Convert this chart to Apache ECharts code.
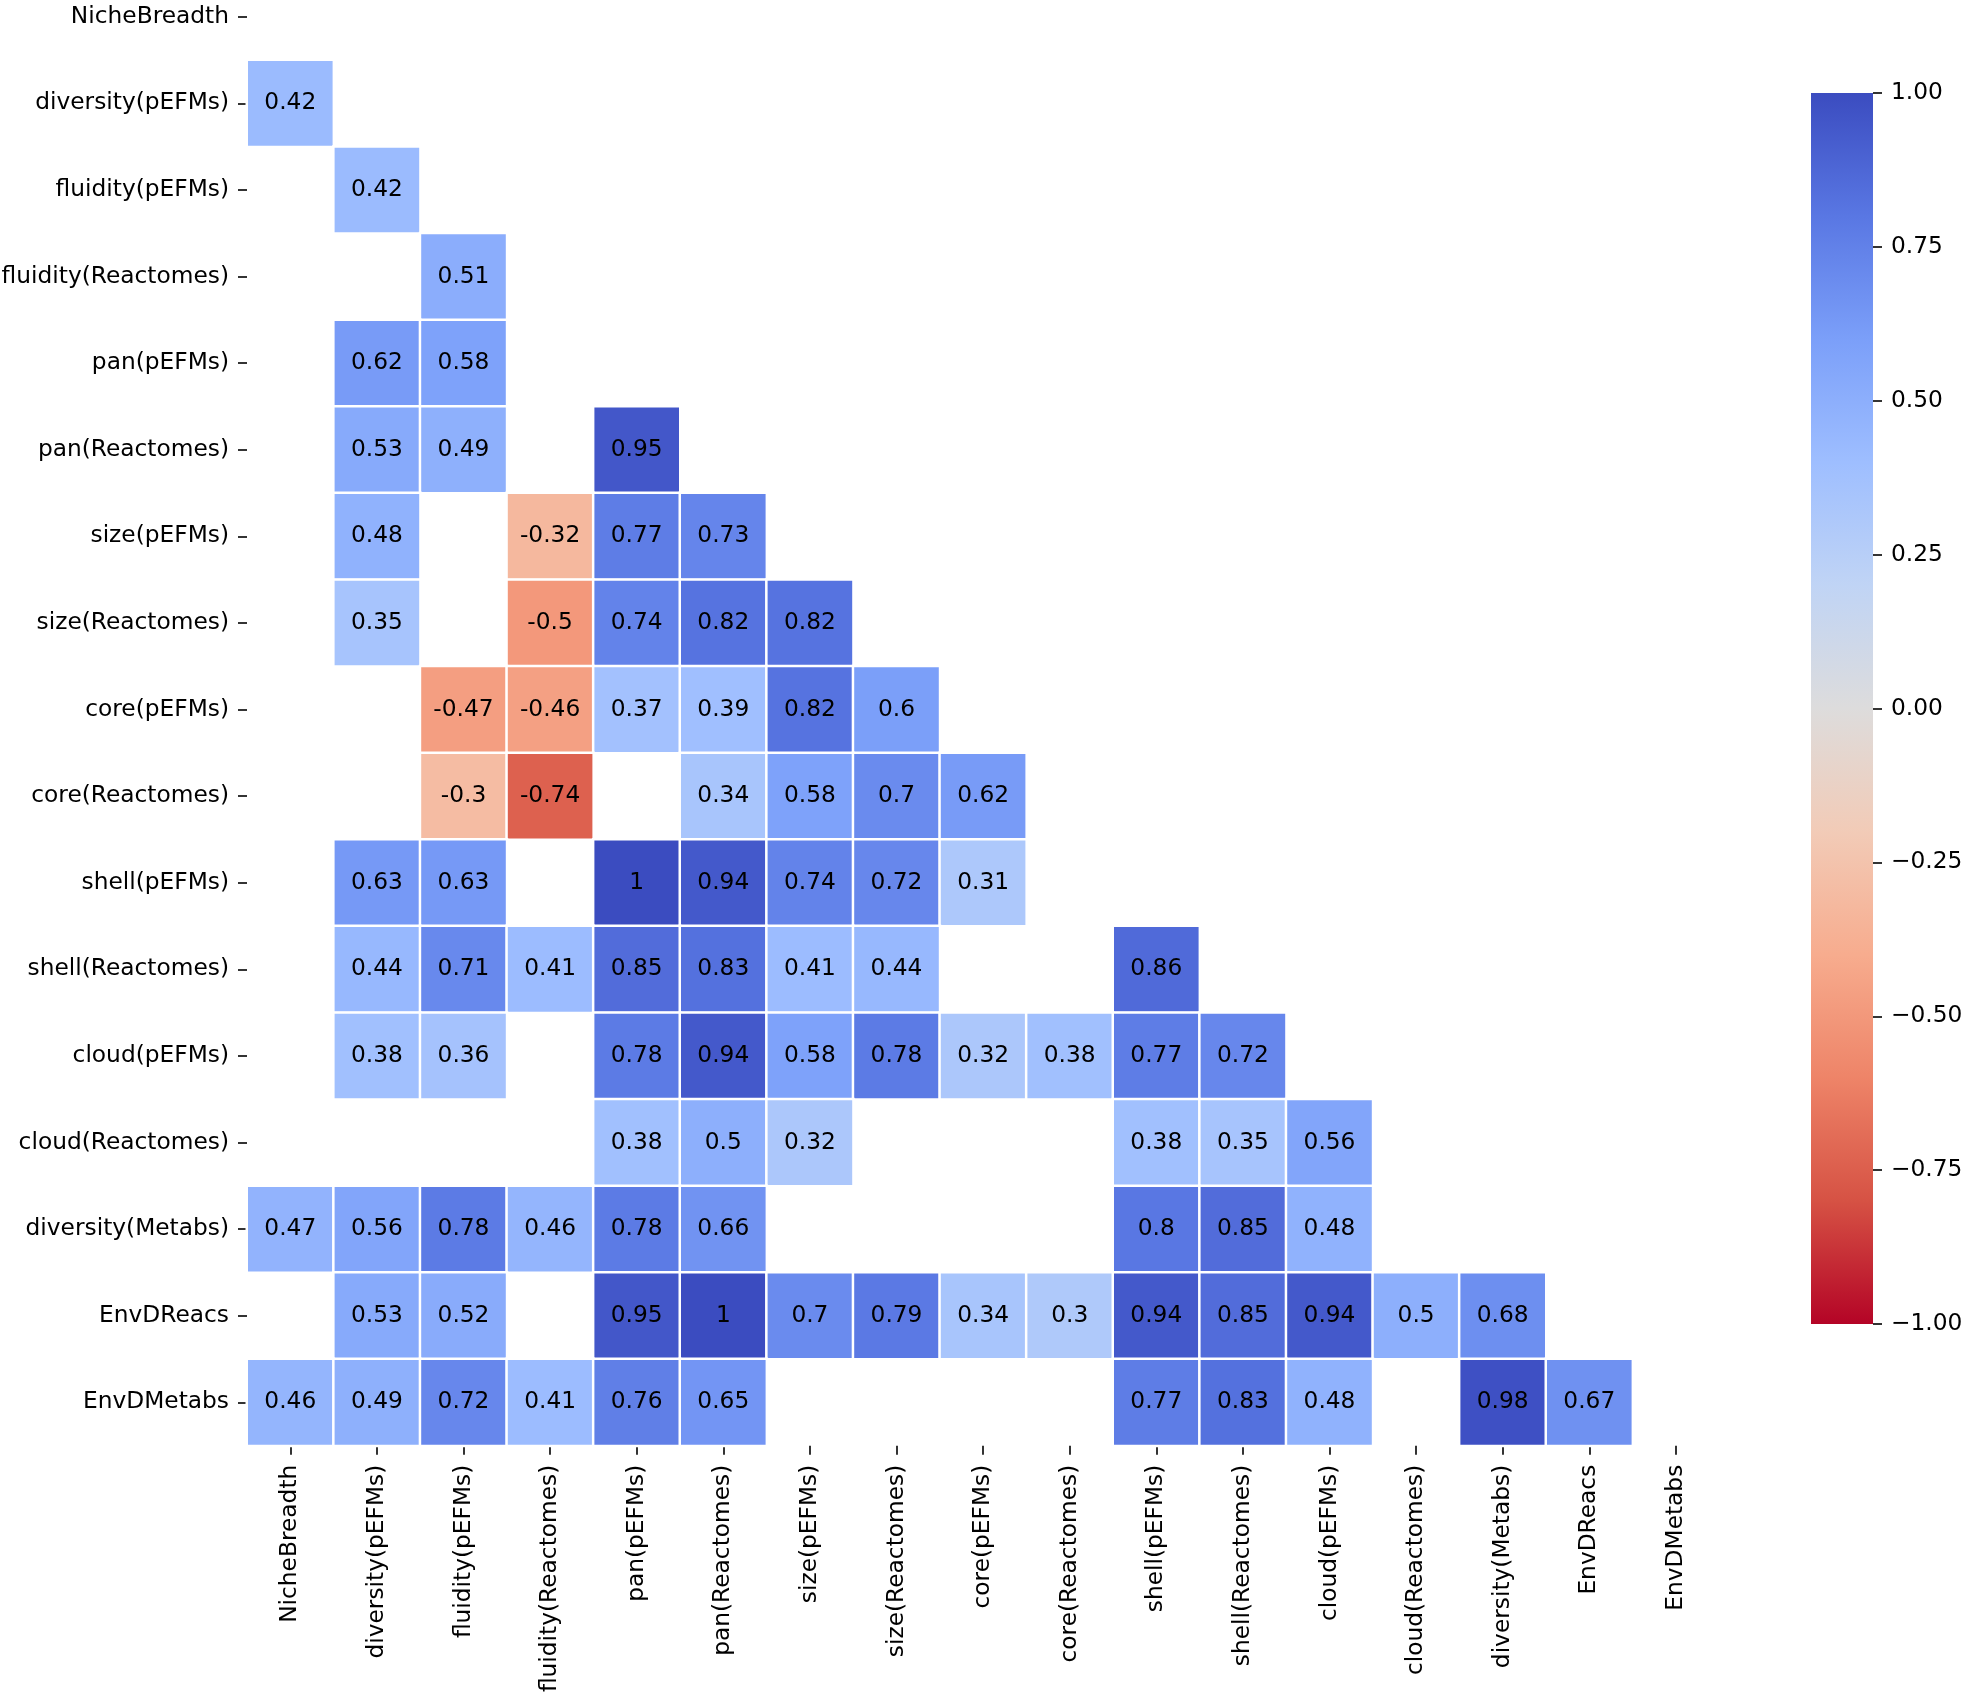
<!DOCTYPE html>
<html>
<head>
<meta charset="utf-8">
<script src="https://cdn.jsdelivr.net/npm/echarts@6/dist/echarts.min.js"></script>
<style>
html,body{margin:0;padding:0;background:#fff;}
#chart{width:1968px;height:1692px;}
</style>
</head>
<body>
<div id="chart"></div>
<script>
const categories = ['NicheBreadth','diversity(pEFMs)','fluidity(pEFMs)','fluidity(Reactomes)','pan(pEFMs)','pan(Reactomes)','size(pEFMs)','size(Reactomes)','core(pEFMs)','core(Reactomes)','shell(pEFMs)','shell(Reactomes)','cloud(pEFMs)','cloud(Reactomes)','diversity(Metabs)','EnvDReacs','EnvDMetabs'];

// lower-triangle rows (null = blank cell)
const rowNicheBreadth = [];
const rowDiversityPEFMs = [0.42];
const rowFluidityPEFMs = [null, 0.42];
const rowFluidityReactomes = [null, null, 0.51];
const rowPanPEFMs = [null, 0.62, 0.58, null];
const rowPanReactomes = [null, 0.53, 0.49, null, 0.95];
const rowSizePEFMs = [null, 0.48, null, -0.32, 0.77, 0.73];
const rowSizeReactomes = [null, 0.35, null, -0.5, 0.74, 0.82, 0.82];
const rowCorePEFMs = [null, null, -0.47, -0.46, 0.37, 0.39, 0.82, 0.6];
const rowCoreReactomes = [null, null, -0.3, -0.74, null, 0.34, 0.58, 0.7, 0.62];
const rowShellPEFMs = [null, 0.63, 0.63, null, 1, 0.94, 0.74, 0.72, 0.31, null];
const rowShellReactomes = [null, 0.44, 0.71, 0.41, 0.85, 0.83, 0.41, 0.44, null, null, 0.86];
const rowCloudPEFMs = [null, 0.38, 0.36, null, 0.78, 0.94, 0.58, 0.78, 0.32, 0.38, 0.77, 0.72];
const rowCloudReactomes = [null, null, null, null, 0.38, 0.5, 0.32, null, null, null, 0.38, 0.35, 0.56];
const rowDiversityMetabs = [0.47, 0.56, 0.78, 0.46, 0.78, 0.66, null, null, null, null, 0.8, 0.85, 0.48, null];
const rowEnvDReacs = [null, 0.53, 0.52, null, 0.95, 1, 0.7, 0.79, 0.34, 0.3, 0.94, 0.85, 0.94, 0.5, 0.68];
const rowEnvDMetabs = [0.46, 0.49, 0.72, 0.41, 0.76, 0.65, null, null, null, null, 0.77, 0.83, 0.48, null, 0.98, 0.67];

const colorbarTicks = [-1, -0.75, -0.5, -0.25, 0, 0.25, 0.5, 0.75, 1];

const rows = [rowNicheBreadth, rowDiversityPEFMs, rowFluidityPEFMs, rowFluidityReactomes, rowPanPEFMs, rowPanReactomes, rowSizePEFMs, rowSizeReactomes, rowCorePEFMs, rowCoreReactomes, rowShellPEFMs, rowShellReactomes, rowCloudPEFMs, rowCloudReactomes, rowDiversityMetabs, rowEnvDReacs, rowEnvDMetabs];

const cells = [];
rows.forEach((r, i) => r.forEach((v, j) => { if (v !== null) cells.push([j, i, v]); }));

// coolwarm_r (low value = red, high value = blue)
const coolwarmLowToHigh = ['#b40426','#d65244','#ee8468','#f7ac8e','#f2cbb7','#dddcdc','#c0d4f5','#9ebeff','#7b9ff9','#5977e3','#3b4cc0'];

const FONT = 'DejaVu Sans';
const FS = 23.3;
const gLeft = 247, gTop = -26.5, cell = 86.6;
const n = categories.length;
const cb = {left: 1811, top: 93, width: 62, height: 1231};

// gradient for colorbar (top = high value = blue)
const cbStops = coolwarmLowToHigh.slice().reverse().map((c, i, a) => ({offset: i / (a.length - 1), color: c}));

const chart = echarts.init(document.getElementById('chart'), null, {renderer: 'canvas'});
chart.setOption({
  animation: false,
  backgroundColor: '#ffffff',
  textStyle: {fontFamily: FONT},
  grid: [
    {left: gLeft, top: gTop, width: cell * n, height: cell * n, containLabel: false, outerBoundsMode: 'none'},
    {left: cb.left, top: cb.top, width: cb.width, height: cb.height, containLabel: false, outerBoundsMode: 'none'}
  ],
  xAxis: [
    {
      type: 'category', gridIndex: 0, data: categories, position: 'bottom',
      splitArea: {show: false}, splitLine: {show: false},
      axisLine: {show: false},
      axisTick: {show: true, alignWithLabel: true, length: 9, lineStyle: {color: '#000', width: 1.6}},
      axisLabel: {rotate: 90, margin: 19, fontSize: FS, color: '#000', fontFamily: FONT, interval: 0}
    },
    {type: 'value', gridIndex: 1, show: false, min: 0, max: 1,
     axisLine: {show: false, onZero: false}, axisTick: {show: false}, axisLabel: {show: false}, splitLine: {show: false}}
  ],
  yAxis: [
    {
      type: 'category', gridIndex: 0, data: categories, inverse: true,
      splitArea: {show: false}, splitLine: {show: false},
      axisLine: {show: false},
      axisTick: {show: true, alignWithLabel: true, length: 9, lineStyle: {color: '#000', width: 1.6}},
      axisLabel: {margin: 18, fontSize: FS, color: '#000', fontFamily: FONT, interval: 0}
    },
    {
      type: 'value', gridIndex: 1, position: 'right', min: colorbarTicks[0], max: colorbarTicks[colorbarTicks.length - 1], interval: 0.25,
      splitLine: {show: false},
      axisLine: {show: false, onZero: false},
      axisTick: {show: true, inside: false, length: 9, lineStyle: {color: '#000', width: 1.6}},
      axisLabel: {margin: 18, fontSize: FS, color: '#000', fontFamily: FONT,
        formatter: v => (v < 0 ? '\u2212' : '') + Math.abs(v).toFixed(2)}
    }
  ],
  visualMap: {
    type: 'continuous', show: false, seriesIndex: 0, dimension: 2,
    min: -1, max: 1,
    inRange: {color: coolwarmLowToHigh}
  },
  graphic: [{
    type: 'rect', left: cb.left, top: cb.top, z: 0,
    shape: {width: cb.width, height: cb.height},
    style: {fill: new echarts.graphic.LinearGradient(0, 0, 0, 1, cbStops)}
  }],
  series: [{
    type: 'heatmap', xAxisIndex: 0, yAxisIndex: 0,
    data: cells,
    itemStyle: {borderColor: '#ffffff', borderWidth: 2.5},
    label: {
      show: true, fontSize: FS, color: '#000', fontFamily: FONT,
      formatter: p => String(Number(p.value[2].toPrecision(2)))
    },
    emphasis: {disabled: true}
  }]
});
</script>
</body>
</html>
